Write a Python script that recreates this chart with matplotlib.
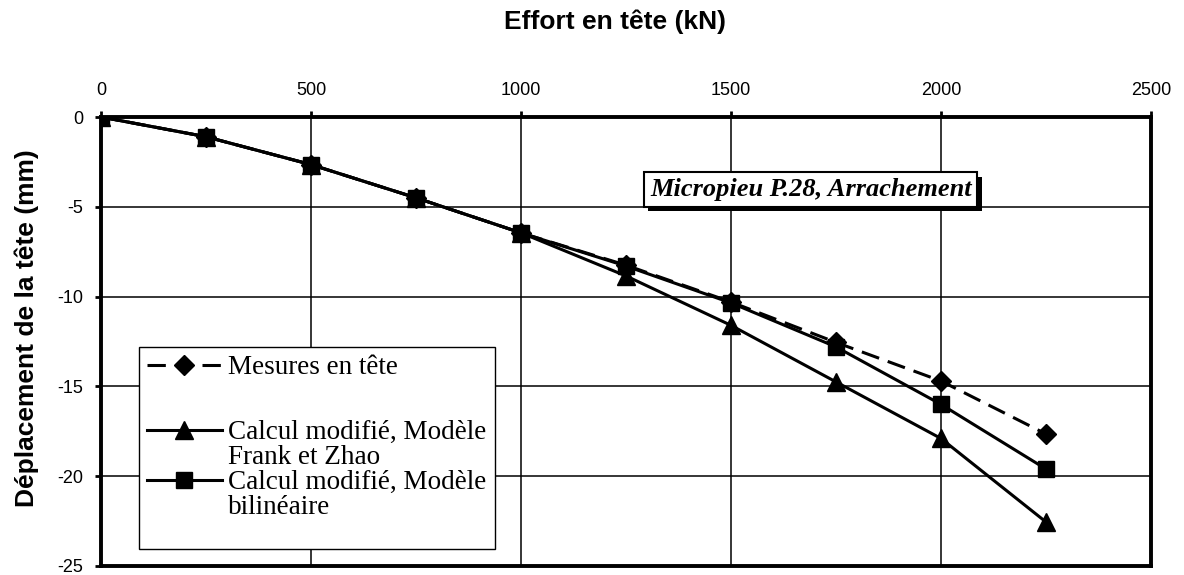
import matplotlib
matplotlib.use("Agg")
import matplotlib.pyplot as plt
from matplotlib.lines import Line2D
import matplotlib.patheffects as pe

plt.rcParams["axes.unicode_minus"] = False

# Data
effort = [0, 250, 500, 750, 1000, 1250, 1500, 1750, 2000, 2250]
mesures = [0, -1.1, -2.65, -4.5, -6.45, -8.25, -10.3, -12.55, -14.7, -17.65]
frank_zhao = [0, -1.1, -2.65, -4.5, -6.45, -8.85, -11.6, -14.75, -17.9, -22.55]
bilineaire = [0, -1.1, -2.65, -4.5, -6.45, -8.3, -10.35, -12.8, -16.0, -19.6]
xticks = [0, 500, 1000, 1500, 2000, 2500]
yticks = [0, -5, -10, -15, -20, -25]
labels = ["Mesures en tête", "Calcul modifié, Modèle", "Frank et Zhao",
          "Calcul modifié, Modèle", "bilinéaire"]
note = "Micropieu P.28, Arrachement"

W, H = 1184, 575
fig = plt.figure(figsize=(W / 100, H / 100), dpi=100)
ax = fig.add_axes([101 / W, 1 - 566 / H, (1151 - 101) / W, (566 - 117) / H])

ax.set_xlim(0, 2500)
ax.set_ylim(-25, 0)
ax.xaxis.set_ticks_position("top")
ax.xaxis.set_label_position("top")
ax.set_xticks(xticks)
ax.set_yticks(yticks)
ax.grid(True, color="black", linewidth=1.1)
ax.set_axisbelow(True)
for s in ax.spines.values():
    s.set_linewidth(2.8)
ax.tick_params(axis="both", direction="out", length=4, width=2,
               labelsize=13, pad=9)
for t in ax.get_xticklabels() + ax.get_yticklabels():
    t.set_fontfamily("Liberation Sans")

ax.set_xlabel("Effort en tête (kN)", fontsize=19, fontweight="bold",
              family="Liberation Sans")
ax.xaxis.set_label_coords(0.49, (566 - 22) / 449)
ax.xaxis.label.set_va("center")
ax.set_ylabel("Déplacement de la tête (mm)", fontsize=19, fontweight="bold",
              family="Liberation Sans")
ax.yaxis.set_label_coords((27 - 101) / 1050, (566 - 328) / 449)
ax.yaxis.label.set_va("center")

h1, = ax.plot(effort, mesures, color="black", lw=2.2, ls=(0, (6, 3)),
              marker="D", ms=10, mfc="black", mec="black", zorder=3)
h2, = ax.plot(effort, frank_zhao, color="black", lw=2.2, marker="^", ms=13,
              mfc="black", mec="black", zorder=4)
h3, = ax.plot(effort, bilineaire, color="black", lw=2.2, marker="s", ms=11,
              mfc="black", mec="black", zorder=5)

blank = Line2D([], [], linestyle="none")
leg = ax.legend([h1, blank, h2, blank, h3, blank, blank],
                [labels[0], "", labels[1], labels[2], labels[3], labels[4], ""],
                loc="upper left", bbox_to_anchor=((139 - 101) / 1050, (566 - 347) / 449),
                borderaxespad=0, frameon=True, fancybox=False,
                edgecolor="black", framealpha=1, handlelength=2.75,
                handletextpad=0.25, labelspacing=0.0, borderpad=0.3,
                prop={"family": "Liberation Serif", "size": 19.5})
leg.get_frame().set_linewidth(1.0)
texts = leg.get_texts()
texts[1].set_fontsize(32.5)
texts[6].set_fontsize(7)

txt = ax.text(1690, -4.05, note, ha="center", va="center",
              fontsize=19, fontstyle="italic", fontweight="bold",
              family="Liberation Serif", zorder=6,
              bbox=dict(boxstyle="square,pad=0.22", fc="white", ec="black",
                        lw=1.5))
txt.get_bbox_patch().set_path_effects([
    pe.SimplePatchShadow(offset=(3, -3), shadow_rgbFace="black", alpha=1),
    pe.Normal()])

fig.savefig("out.png", dpi=100)
